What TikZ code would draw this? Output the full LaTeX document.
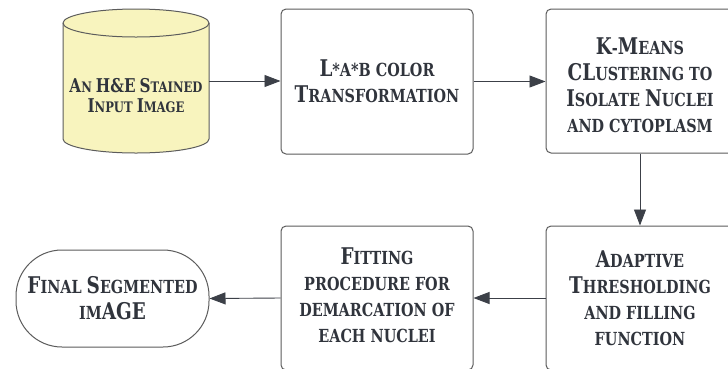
\documentclass[tikz,border=0pt]{standalone}
\usepackage{fontspec}
\setmainfont{DejaVu Serif}[FakeStretch=0.8]
\usetikzlibrary{arrows.meta}
\definecolor{txt}{HTML}{30343C}
\definecolor{ln}{HTML}{5C5C5C}
\definecolor{arrc}{HTML}{3C4048}
\definecolor{cyl}{HTML}{F8F4BE}
\newcommand\bc[1]{{\fontsize{23}{26}\selectfont #1}}
\newcommand\bcs[1]{{\fontsize{19}{22}\selectfont #1}}
\begin{document}
\begin{tikzpicture}[x=1pt,y=-1pt,
  box/.style={draw=ln, line width=1pt, rounded corners=5pt, fill=white,
    font=\bfseries\fontsize{18}{26}\selectfont, text=txt, align=center, inner sep=0pt},
  term/.style={box, rounded corners=46pt},
  btxt/.style={font=\bfseries\fontsize{18}{26}\selectfont, text=txt, align=center, inner sep=0pt},
  lbl/.style={font=\bfseries\fontsize{14.5}{22}\selectfont, text=txt, align=center, inner sep=0pt},
  arr/.style={draw=arrc, line width=0.9pt, -{Triangle[length=16pt,width=12pt]}}]
\useasboundingbox (0,0) rectangle (728,368);
\clip (0,0) rectangle (728,368);
\fill[white] (0,0) rectangle (728,368);
% cylinder
\filldraw[fill=cyl, draw=ln, line width=1pt]
  (63,23) -- (63,139) arc[start angle=180, end angle=0, x radius=73, y radius=14]
  -- (209,23) arc[start angle=360, end angle=180, x radius=73, y radius=14] -- cycle;
\draw[ln, line width=1pt] (63,23) arc[start angle=180, end angle=0, x radius=73, y radius=14];
\node[lbl] (input) at (136,96) {\bcs{A}N \bcs{H\&E} \bcs{S}TAINED\\[-2pt]\bcs{I}NPUT \bcs{I}MAGE};
\coordinate (inputE) at (209,81);
% boxes
\node[box, minimum width=192pt, minimum height=145pt] (lab) at (377,81.5)
  {\bc{L}*A*B COLOR\\\bc{T}RANSFORMATION};
\node[box, minimum width=188pt, minimum height=144pt] (kmeans) at (640,81) {};
\node[btxt] (kmeansT) at (640,85.5)
  {\bc{K}-\bc{M}EANS\\\bc{CL}USTERING TO\\\bc{I}SOLATE \bc{N}UCLEI\\AND CYTOPLASM};
\node[box, minimum width=188pt, minimum height=144pt] (adapt) at (640,298)
  {\bc{A}DAPTIVE\\\bc{T}HRESHOLDING\\AND FILLING\\FUNCTION};
\node[box, minimum width=192pt, minimum height=144pt] (fit) at (377,298) {};
\node[btxt] (fitT) at (377,295)
  {\bc{F}ITTING\\PROCEDURE FOR\\DEMARCATION OF\\EACH NUCLEI};
\node[term, minimum width=193pt, minimum height=97pt] (final) at (112.5,298.5)
  {\bc{F}INAL \bc{S}EGMENTED\\IM\bc{AGE}};
% connectors
\draw[arr] (inputE) -- (lab.west |- inputE);
\draw[arr] (lab.east) -- (kmeans.west |- lab.east);
\draw[arr] (kmeans.south) -- (adapt.north);
\draw[arr] (adapt.west) -- (fit.east);
\draw[arr] (fit.west) -- (final.east);
\end{tikzpicture}
\end{document}
